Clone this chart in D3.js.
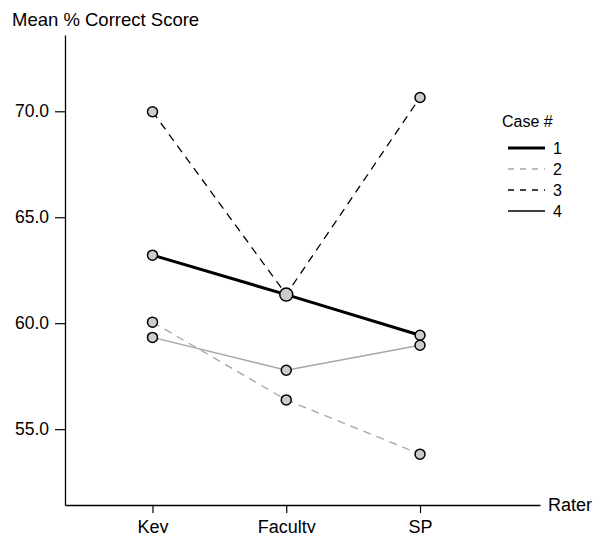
<!DOCTYPE html>
<html><head><meta charset="utf-8">
<script src="https://cdn.jsdelivr.net/npm/d3@7"></script>
<style>body{margin:0;background:#fff}svg{display:block;font-family:"Liberation Sans",Arial,sans-serif}</style>
</head><body><svg id="c" width="595" height="533"></svg>
<script>
const raters = ["Key", "Faculty", "SP"];
const cases = ["1", "2", "3", "4"];
const case1 = [63.21, 61.35, 59.43];
const case2 = [60.05, 56.38, 53.82];
const case3 = [69.98, 61.35, 70.65];
const case4 = [59.33, 57.78, 58.96];
const yTicks = [55, 60, 65, 70];
const yLabel = "Mean % Correct Score";
const xLabel = "Rater";
const legendTitle = "Case #";

const series = [case1, case2, case3, case4];
const styles = [
  {stroke:"#000", w:3, dash:null, legendStroke:"#000"},
  {stroke:"#a6a6a6", w:1.3, dash:"8,6", legendStroke:"#a6a6a6"},
  {stroke:"#000", w:1.3, dash:"8,6", legendStroke:"#000"},
  {stroke:"#a6a6a6", w:1.4, dash:null, legendStroke:"#000"}
];

const svg = d3.select("#c");
const x = d3.scaleLinear().domain([0.346, 3.897]).range([65, 540]);
const y = d3.scaleLinear().domain([51.42, 73.6]).range([505, 35]);

const FONT = "Liberation Sans, Arial, sans-serif";
// axes
const yAxis = d3.axisLeft(y).tickValues(yTicks).tickFormat(d3.format(".1f")).tickSize(10).tickSizeOuter(0).tickPadding(6);
const gy = svg.append("g").attr("transform","translate(65,0)").call(yAxis);
gy.select(".domain").attr("stroke","#000").attr("stroke-width",1.3);
gy.selectAll(".tick line").attr("stroke","#000").attr("stroke-width",1.2);
gy.selectAll(".tick text").attr("font-size",17.5).attr("fill","#000").attr("font-family",FONT);

const xAxis = d3.axisBottom(x).tickValues([1,2,3]).tickFormat((d)=>raters[d-1]).tickSize(8).tickSizeOuter(0).tickPadding(7);
const gx = svg.append("g").attr("transform","translate(0,505)").call(xAxis);
gx.select(".domain").attr("stroke","#000").attr("stroke-width",1.3);
gx.selectAll(".tick line").attr("stroke","#000").attr("stroke-width",1.2);
gx.selectAll(".tick text").attr("font-size",18).attr("fill","#000").attr("font-family",FONT);

svg.append("text").attr("x",12).attr("y",26).attr("font-size",18.5).text(yLabel);
svg.append("text").attr("x",548).attr("y",511).attr("font-size",18).text(xLabel);

// lines
const line = d3.line().x((d,i)=>x(i+1)).y(d=>y(d));
series.forEach((s,k)=>{
  svg.append("path").attr("d",line(s)).attr("fill","none")
    .attr("stroke",styles[k].stroke).attr("stroke-width",styles[k].w)
    .attr("stroke-dasharray",styles[k].dash);
});

// points (coincident points drawn as a single larger marker)
const drawn = [];
series.forEach((s)=>{
  s.forEach((v,i)=>{
    const dup = drawn.find(p=>p.i===i && Math.abs(p.v-v)<0.1);
    if (dup) { dup.node.attr("r",6.5); return; }
    const node = svg.append("circle").attr("cx",x(i+1)).attr("cy",y(v)).attr("r",5)
      .attr("fill","#cccccc").attr("stroke","#000").attr("stroke-width",1.5);
    drawn.push({i, v, node});
  });
});

// legend
const lg = svg.append("g");
lg.append("text").attr("x",502).attr("y",127).attr("font-size",16).text(legendTitle);
cases.forEach((c,k)=>{
  const yy = 148 + k*21;
  lg.append("line").attr("x1",508).attr("x2",545).attr("y1",yy).attr("y2",yy)
    .attr("stroke",styles[k].legendStroke).attr("stroke-width",k===0?3:1.3)
    .attr("stroke-dasharray",styles[k].dash ? "6,6" : null);
  lg.append("text").attr("x",553).attr("y",yy+6).attr("font-size",16).text(c);
});
</script></body></html>
